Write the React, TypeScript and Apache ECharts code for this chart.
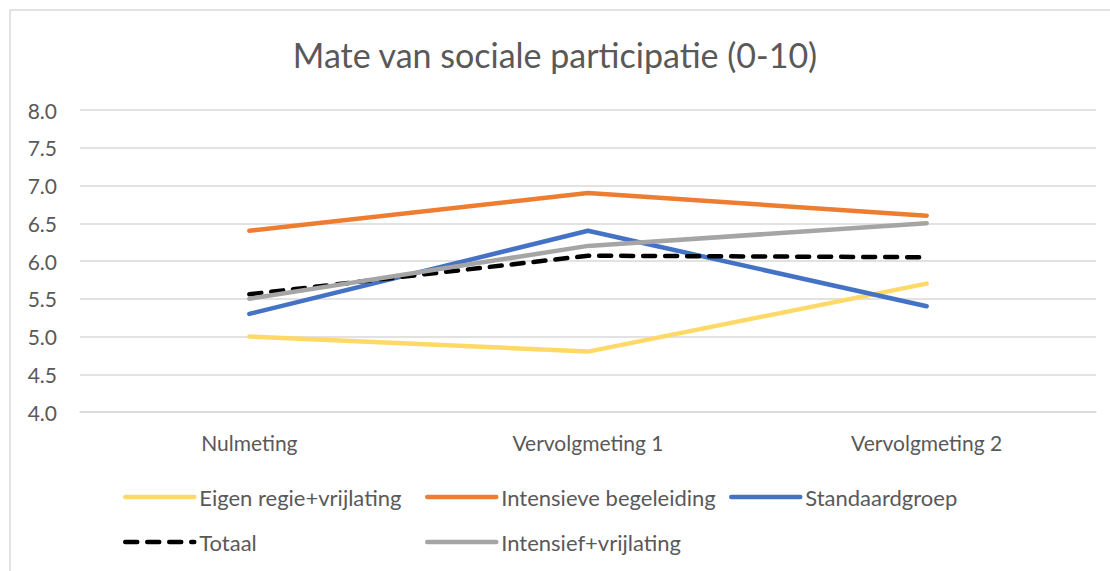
import React, { useEffect, useRef } from "react";
import * as echarts from "echarts";

const categories = ["Nulmeting", "Vervolgmeting 1", "Vervolgmeting 2"];
const eigenRegie = [5.0, 4.8, 5.7];
const intensieveBegeleiding = [6.4, 6.9, 6.6];
const standaardgroep = [5.3, 6.4, 5.4];
const totaal = [5.56, 6.07, 6.05];
const intensiefVrijlating = [5.5, 6.2, 6.5];

const FONT = "Lato, 'Open Sans', sans-serif";
const TXT = "#595959";

export default function App() {
  const ref = useRef<HTMLDivElement>(null);
  useEffect(() => {
    const chart = echarts.init(ref.current!, null, { renderer: "svg" });
    const mk = (name: string, data: number[], color: string, dashed = false) => ({
      name,
      type: "line",
      data,
      symbol: "none",
      lineStyle: {
        color,
        width: 4.5,
        cap: "round",
        join: "round",
        type: dashed ? [12, 10] : "solid",
      },
      itemStyle: { color },
    });
    const legendCommon = {
      itemWidth: 69,
      itemHeight: 14,
      padding: 0,
      itemStyle: { opacity: 0 },
      lineStyle: { width: 4.5 },
      textStyle: { color: TXT, fontSize: 22, fontFamily: FONT },
    };
    const row1 = 486;
    const row2 = 531;
    chart.setOption({
      animation: false,
      textStyle: { fontFamily: FONT },
      title: {
        text: "Mate van sociale participatie (0-10)",
        left: "center",
        top: 32,
        textStyle: { color: TXT, fontSize: 34, fontWeight: "normal", fontFamily: FONT },
      },
      graphic: [
        {
          type: "rect",
          shape: { x: 10, y: 10, width: 1200, height: 700 },
          style: { fill: "none", stroke: "#d9d9d9", lineWidth: 1.5 },
          silent: true,
        },
      ],
      legend: [
        { ...legendCommon, left: 123, top: row1, data: ["Eigen regie+vrijlating"] },
        { ...legendCommon, left: 425, top: row1, data: ["Intensieve begeleiding"] },
        { ...legendCommon, left: 729, top: row1, data: ["Standaardgroep"] },
        { ...legendCommon, left: 123, top: row2, data: ["Totaal"] },
        { ...legendCommon, left: 425, top: row2, data: ["Intensief+vrijlating"] },
      ],
      grid: { left: 80, right: 14, top: 110, bottom: 159 },
      xAxis: {
        type: "category",
        data: categories,
        boundaryGap: true,
        axisLine: { show: true, lineStyle: { color: "#d9d9d9", width: 1.5 } },
        axisTick: { show: false },
        axisLabel: { color: TXT, fontSize: 21, fontFamily: FONT, margin: 20 },
      },
      yAxis: {
        type: "value",
        min: 4,
        max: 8,
        interval: 0.5,
        axisLine: { show: false },
        axisTick: { show: false },
        axisLabel: {
          color: TXT,
          fontSize: 21,
          fontFamily: FONT,
          margin: 23,
          formatter: (v: number) => v.toFixed(1),
        },
        splitLine: { lineStyle: { color: "#d9d9d9", width: 1.5 } },
      },
      series: [
        mk("Eigen regie+vrijlating", eigenRegie, "#FFD966"),
        mk("Intensieve begeleiding", intensieveBegeleiding, "#ED7D31"),
        mk("Standaardgroep", standaardgroep, "#4472C4"),
        mk("Totaal", totaal, "#000000", true),
        mk("Intensief+vrijlating", intensiefVrijlating, "#A5A5A5"),
      ],
    });
    return () => chart.dispose();
  }, []);
  return (
    <div
      ref={ref}
      style={{ position: "absolute", left: 0, top: 0, width: 1110, height: 571, background: "#fff" }}
    />
  );
}
